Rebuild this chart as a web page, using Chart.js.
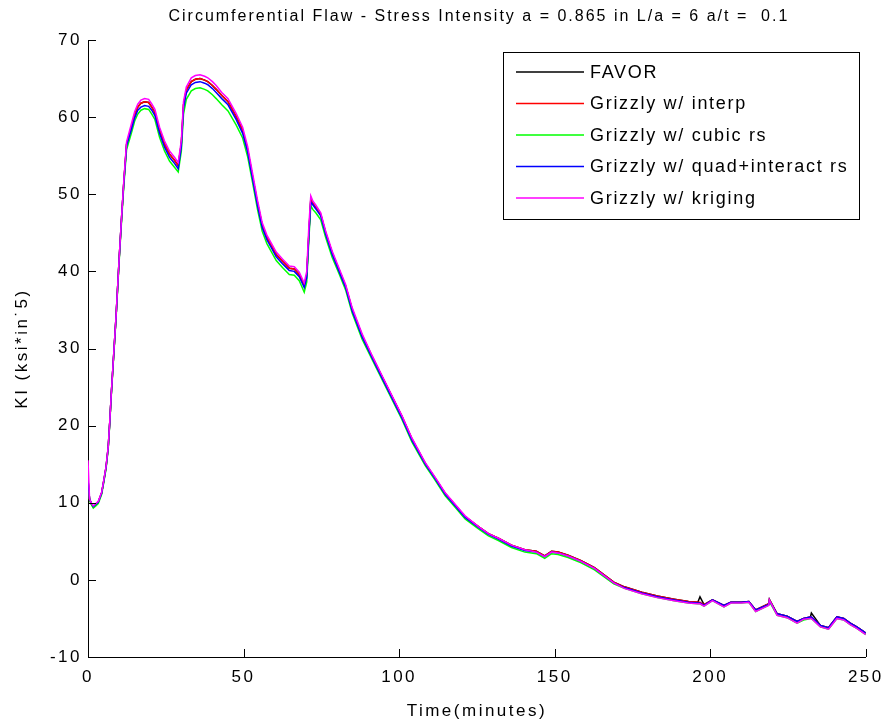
<!DOCTYPE html>
<html>
<head>
<meta charset="utf-8">
<title>Circumferential Flaw - Stress Intensity</title>
<script src="https://cdn.jsdelivr.net/npm/chart.js@4/dist/chart.umd.min.js"></script>
<style>
  html, body { margin: 0; padding: 0; background: #fff; }
  #wrap { width: 890px; height: 727px; }
</style>
</head>
<body>
<div id="wrap"><canvas id="chart" width="890" height="727"></canvas></div>
<script>
// 시간 축 (minutes)
const timeMin = [
  0, 0.5, 1, 1.7, 2.5, 3.3, 4.4, 5.1, 5.8, 6.5,
  7, 7.5, 8, 9, 10, 10.8, 11.5, 12.4, 14, 15,
  16, 17, 18.2, 19.5, 20.5, 21.5, 23, 24.6, 26.2, 27.8,
  29, 30, 30.7, 31.6, 33.2, 34.5, 36, 37.5, 38.5, 40,
  41.2, 43, 45, 47.6, 49.7, 51.3, 52.9, 54.5, 56, 57.5,
  59, 60.5, 62.5, 64.7, 66.3, 67.9, 69.5, 70.3, 71, 71.6,
  72.3, 73.2, 74.8, 76.4, 78.5, 80.7, 82.8, 84.9, 88.1, 91.3,
  94.5, 97.7, 100.9, 104.1, 108.4, 111.6, 114.8, 118, 121.2, 125.5,
  128.7, 131.9, 136.1, 140.4, 144.1, 146.8, 149, 151.1, 154.3, 158.5,
  162.8, 169, 172.4, 178, 183, 188.4, 193, 196, 196.7, 198,
  200.7, 204.4, 206.6, 210, 212.4, 214.6, 218.8, 219, 221.5, 224.7,
  227.9, 230, 232.2, 232.5, 235.4, 238, 240.7, 242.9, 245, 247.1, 250
];

// KI values per method
const favorKI = [
  13.0, 10.5, 10.0, 9.5, 9.8, 10.1, 11.3, 12.9, 14.6, 17.2,
  20.5, 24.2, 27.5, 34.0, 41.5, 47.0, 51.5, 56.5, 58.8, 60.3,
  61.3, 61.8, 62.0, 61.9, 61.3, 60.6, 58.3, 56.5, 55.2, 54.4,
  53.7, 56.6, 61.6, 63.5, 64.6, 64.9, 65.0, 64.8, 64.6, 64.1,
  63.6, 62.8, 62.0, 60.1, 58.3, 55.8, 52.3, 48.8, 46.0, 44.4,
  43.3, 42.2, 41.3, 40.4, 40.3, 39.6, 38.2, 39.5, 45.0, 49.3,
  48.8, 48.3, 47.4, 45.0, 42.4, 40.2, 38.1, 35.1, 31.7, 29.0,
  26.4, 23.8, 21.2, 18.3, 15.1, 13.2, 11.2, 9.7, 8.2, 6.9,
  6.0, 5.4, 4.5, 3.9, 3.7, 3.1, 3.7, 3.6, 3.2, 2.5,
  1.6, -0.3, -0.9, -1.6, -2.1, -2.5, -2.8, -2.9, -2.2, -3.2,
  -2.6, -3.3, -2.9, -2.9, -2.8, -3.9, -3.1, -2.5, -4.4, -4.7,
  -5.4, -5.0, -4.8, -4.3, -5.9, -6.2, -4.8, -5.0, -5.6, -6.1, -6.9
];

const interpKI = [
  13.0, 10.4, 9.9, 9.5, 9.8, 10.1, 11.3, 12.9, 14.6, 17.2,
  20.5, 24.2, 27.5, 34.0, 41.5, 47.0, 51.5, 56.5, 58.8, 60.3,
  61.3, 61.8, 62.0, 61.9, 61.3, 60.6, 58.3, 56.5, 55.2, 54.4,
  53.7, 56.6, 61.6, 63.5, 64.6, 64.9, 65.0, 64.8, 64.6, 64.1,
  63.6, 62.8, 62.0, 60.1, 58.3, 55.8, 52.3, 48.8, 46.0, 44.4,
  43.3, 42.2, 41.3, 40.4, 40.3, 39.6, 38.2, 39.5, 45.0, 49.3,
  48.8, 48.3, 47.4, 45.0, 42.4, 40.2, 38.1, 35.1, 31.7, 29.0,
  26.4, 23.8, 21.2, 18.3, 15.1, 13.2, 11.2, 9.7, 8.2, 6.9,
  6.0, 5.4, 4.5, 3.9, 3.7, 3.1, 3.7, 3.6, 3.2, 2.5,
  1.6, -0.3, -0.9, -1.6, -2.1, -2.5, -2.8, -2.9, -2.9, -3.2,
  -2.6, -3.3, -2.9, -2.9, -2.8, -3.9, -3.1, -2.6, -4.4, -4.7,
  -5.4, -5.0, -4.8, -4.8, -5.9, -6.2, -4.8, -5.0, -5.6, -6.1, -6.9
];

const cubicKI = [
  13.0, 10.3, 9.8, 9.3, 9.6, 9.9, 11.1, 12.7, 14.4, 17.0,
  20.3, 24.0, 27.3, 33.8, 41.2, 46.6, 51.0, 55.8, 58.0, 59.5,
  60.4, 60.9, 61.1, 61.0, 60.4, 59.7, 57.4, 55.6, 54.3, 53.5,
  52.9, 55.6, 60.4, 62.3, 63.4, 63.7, 63.8, 63.6, 63.4, 62.9,
  62.4, 61.6, 60.8, 59.0, 57.3, 54.9, 51.5, 48.0, 45.2, 43.6,
  42.5, 41.4, 40.5, 39.6, 39.5, 38.8, 37.3, 38.6, 44.2, 48.5,
  48.0, 47.6, 46.7, 44.4, 41.8, 39.7, 37.6, 34.6, 31.2, 28.6,
  26.0, 23.4, 20.8, 17.9, 14.8, 12.9, 10.9, 9.4, 7.9, 6.6,
  5.7, 5.1, 4.2, 3.6, 3.4, 2.8, 3.4, 3.3, 2.9, 2.2,
  1.3, -0.5, -1.1, -1.8, -2.3, -2.7, -3.0, -3.1, -3.1, -3.4,
  -2.7, -3.5, -3.0, -3.0, -2.9, -4.1, -3.3, -2.8, -4.6, -4.9,
  -5.6, -5.2, -5.0, -5.0, -6.1, -6.4, -5.0, -5.2, -5.8, -6.3, -7.1
];

const quadKI = [
  13.0, 10.5, 10.0, 9.5, 9.8, 10.1, 11.3, 12.9, 14.6, 17.2,
  20.5, 24.2, 27.5, 34.0, 41.5, 47.0, 51.4, 56.3, 58.5, 59.9,
  60.9, 61.3, 61.5, 61.4, 60.9, 60.2, 57.9, 56.1, 54.8, 54.0,
  53.3, 56.2, 61.2, 63.1, 64.2, 64.5, 64.6, 64.4, 64.2, 63.7,
  63.2, 62.4, 61.6, 59.7, 57.9, 55.5, 52.0, 48.5, 45.7, 44.1,
  43.0, 41.9, 41.0, 40.1, 40.0, 39.3, 37.9, 39.2, 44.8, 49.0,
  48.6, 48.1, 47.2, 44.8, 42.2, 40.0, 37.9, 34.9, 31.5, 28.8,
  26.2, 23.6, 21.0, 18.1, 15.0, 13.1, 11.1, 9.6, 8.1, 6.8,
  5.9, 5.3, 4.4, 3.8, 3.6, 3.0, 3.6, 3.5, 3.1, 2.4,
  1.5, -0.4, -1.0, -1.7, -2.2, -2.6, -2.9, -3.0, -3.0, -3.3,
  -2.6, -3.3, -2.9, -2.9, -2.8, -3.9, -3.2, -2.7, -4.4, -4.7,
  -5.4, -5.0, -4.8, -4.8, -5.9, -6.2, -4.8, -5.0, -5.6, -6.1, -6.9
];

const krigingKI = [
  15.5, 10.5, 10.0, 9.6, 9.9, 10.2, 11.4, 13.0, 14.7, 17.3,
  20.6, 24.3, 27.6, 34.1, 41.6, 47.1, 51.7, 56.8, 59.2, 60.7,
  61.7, 62.2, 62.4, 62.3, 61.7, 61.0, 58.7, 56.9, 55.6, 54.8,
  54.1, 57.0, 62.0, 63.9, 65.1, 65.4, 65.5, 65.3, 65.1, 64.6,
  64.1, 63.2, 62.4, 60.5, 58.7, 56.2, 52.7, 49.2, 46.3, 44.7,
  43.6, 42.5, 41.6, 40.7, 40.6, 39.9, 38.5, 40.0, 46.0, 49.8,
  49.1, 48.6, 47.6, 45.2, 42.6, 40.4, 38.3, 35.3, 31.9, 29.1,
  26.5, 23.9, 21.3, 18.4, 15.2, 13.3, 11.3, 9.8, 8.3, 6.9,
  6.0, 5.4, 4.5, 3.9, 3.6, 3.0, 3.6, 3.5, 3.1, 2.4,
  1.5, -0.4, -1.1, -1.8, -2.3, -2.7, -3.0, -3.1, -3.1, -3.4,
  -2.7, -3.5, -3.0, -3.0, -2.9, -4.1, -3.3, -2.6, -4.6, -4.9,
  -5.6, -5.1, -5.0, -5.0, -6.1, -6.4, -5.0, -5.2, -5.8, -6.3, -7.1
];

const seriesLabels = [
  'FAVOR',
  'Grizzly w/ interp',
  'Grizzly w/ cubic rs',
  'Grizzly w/ quad+interact rs',
  'Grizzly w/ kriging'
];
const seriesColors = ['#000000', '#ff0000', '#00ff00', '#0000ff', '#ff00ff'];
const seriesValues = [favorKI, interpKI, cubicKI, quadKI, krigingKI];

const titleText = 'Circumferential Flaw - Stress Intensity a = 0.865 in L/a = 6 a/t =  0.1';
const FONT = '"Liberation Sans", Arial, sans-serif';

/**
 * 데이터셋 생성 (later series drawn on top, like the original plot)
 */
function createDataset(label, values, color, i) {
  return {
    label: label,
    data: values.map((v, k) => ({ x: timeMin[k], y: v })),
    borderColor: color,
    backgroundColor: color,
    borderWidth: 1.5,
    pointRadius: 0,
    tension: 0,
    fill: false,
    order: seriesLabels.length - i
  };
}

/**
 * 제목, 안쪽 눈금, 범례 박스
 */
const decorPlugin = {
  id: 'decor',
  beforeDraw(chart) {
    // wide letter spacing like the original renderer (ticks and axis titles)
    chart.ctx.letterSpacing = '2.5px';
  },
  afterDraw(chart) {
    const { ctx, chartArea, scales } = chart;
    ctx.save();

    // title
    ctx.letterSpacing = '2px';
    ctx.fillStyle = '#000';
    ctx.font = '16px ' + FONT;
    ctx.textAlign = 'center';
    ctx.textBaseline = 'middle';
    ctx.fillText(titleText, (chartArea.left + chartArea.right) / 2 + 2, 17);

    // inward ticks
    ctx.strokeStyle = '#000';
    ctx.lineWidth = 1;
    ctx.beginPath();
    scales.y.ticks.forEach(t => {
      const py = Math.round(scales.y.getPixelForValue(t.value)) + 0.5;
      ctx.moveTo(chartArea.left, py);
      ctx.lineTo(chartArea.left + 8, py);
    });
    scales.x.ticks.forEach(t => {
      const px = Math.round(scales.x.getPixelForValue(t.value)) + 0.5;
      ctx.moveTo(px, chartArea.bottom);
      ctx.lineTo(px, chartArea.bottom - 8);
    });
    ctx.stroke();

    // legend
    const box = { left: 503.5, top: 52.5, right: 859.5, bottom: 219.5 };
    ctx.fillStyle = '#fff';
    ctx.fillRect(box.left, box.top, box.right - box.left, box.bottom - box.top);
    ctx.strokeStyle = '#000';
    ctx.strokeRect(box.left, box.top, box.right - box.left, box.bottom - box.top);
    ctx.font = '18px ' + FONT;
    ctx.letterSpacing = '1.7px';
    ctx.textAlign = 'left';
    chart.data.datasets.forEach((ds, i) => {
      const y = 72 + i * 31.5;
      ctx.strokeStyle = ds.borderColor;
      ctx.lineWidth = 1.4;
      ctx.beginPath();
      ctx.moveTo(516, y);
      ctx.lineTo(584, y);
      ctx.stroke();
      ctx.fillStyle = '#000';
      ctx.fillText(ds.label, 590, y + 1);
    });
    ctx.restore();
  }
};

const ctx = document.getElementById('chart').getContext('2d');
new Chart(ctx, {
  type: 'line',
  data: {
    datasets: seriesLabels.map((l, i) => createDataset(l, seriesValues[i], seriesColors[i], i))
  },
  options: {
    responsive: false,
    animation: false,
    layout: { padding: { left: 0, right: 21, top: 40, bottom: 0 } },
    plugins: {
      legend: { display: false },
      tooltip: { enabled: false }
    },
    scales: {
      x: {
        type: 'linear',
        min: 0,
        max: 250,
        afterFit: s => { s.height = 70; },
        ticks: { stepSize: 50, color: '#000', padding: 10, maxRotation: 0, font: { family: FONT, size: 17 } },
        grid: { display: false, drawTicks: false },
        border: { display: true, color: '#000', width: 1 },
        title: { display: true, text: 'Time(minutes)', color: '#000', font: { family: FONT, size: 17 }, padding: { top: 0, bottom: 5 } }
      },
      y: {
        type: 'linear',
        min: -10,
        max: 70,
        afterFit: s => { s.width = 88; },
        ticks: { stepSize: 10, color: '#000', padding: 6, font: { family: FONT, size: 17 } },
        grid: { display: false, drawTicks: false },
        border: { display: true, color: '#000', width: 1 },
        title: { display: true, text: 'KI (ksi*in˙5)', color: '#000', font: { family: FONT, size: 17 }, padding: { top: 12, bottom: 0 } }
      }
    }
  },
  plugins: [decorPlugin]
});
</script>
</body>
</html>
